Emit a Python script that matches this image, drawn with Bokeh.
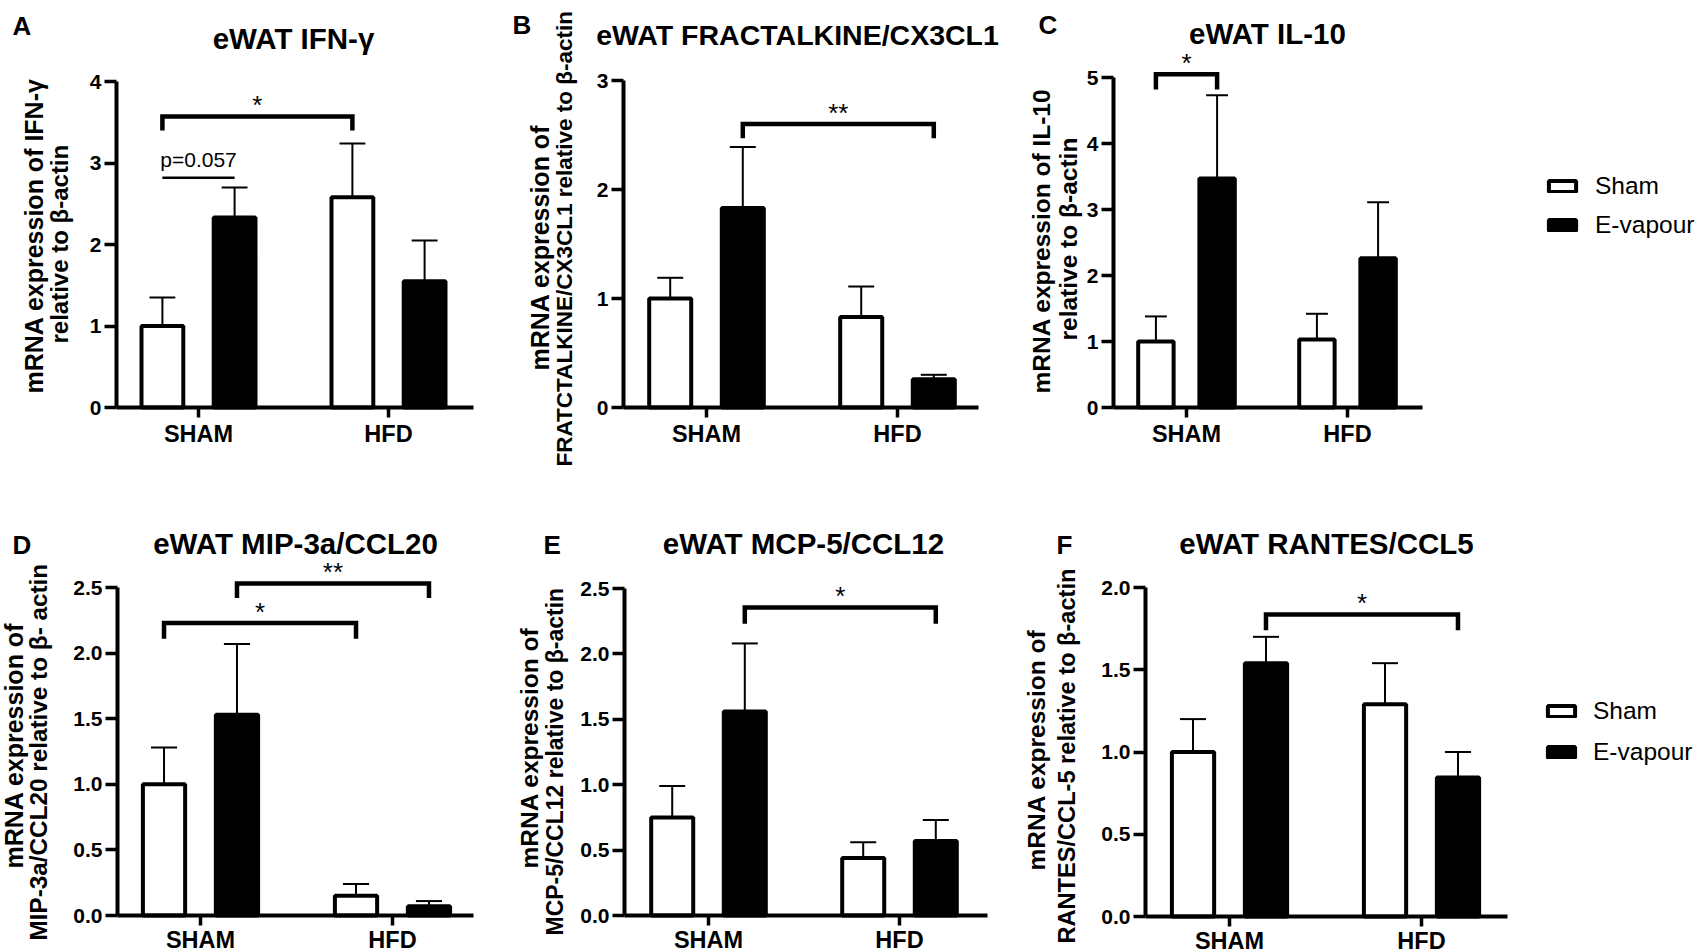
from bokeh.plotting import figure
from bokeh.models import (Range1d, FixedTicker, Label, Legend, LegendItem,
                          NumeralTickFormatter)
from bokeh.layouts import row, column
from bokeh.embed import file_html
from bokeh.resources import INLINE

FONT = "Liberation Sans"

# ---------------- data ----------------
groups = ["SHAM", "HFD"]
series = ["Sham", "E-vapour"]

# A  eWAT IFN-gamma
ifng_sham_mean = [1.00, 2.58]
ifng_sham_sem = [0.35, 0.66]
ifng_evap_mean = [2.33, 1.55]
ifng_evap_sem = [0.37, 0.50]
ifng_yticks = [0, 1, 2, 3, 4]
ifng_brackets = [("SHAM", "Sham", "HFD", "Sham", 3.57, 3.40, "*")]
ifng_plines = [("SHAM", "Sham", "SHAM", "E-vapour", 2.82, "p=0.057")]

# B  eWAT FRACTALKINE/CX3CL1
cx3cl1_sham_mean = [1.00, 0.83]
cx3cl1_sham_sem = [0.19, 0.28]
cx3cl1_evap_mean = [1.83, 0.26]
cx3cl1_evap_sem = [0.56, 0.04]
cx3cl1_yticks = [0, 1, 2, 3]
cx3cl1_brackets = [("SHAM", "E-vapour", "HFD", "E-vapour", 2.60, 2.47, "**")]

# C  eWAT IL-10
il10_sham_mean = [1.00, 1.03]
il10_sham_sem = [0.38, 0.39]
il10_evap_mean = [3.47, 2.26]
il10_evap_sem = [1.26, 0.85]
il10_yticks = [0, 1, 2, 3, 4, 5]
il10_brackets = [("SHAM", "Sham", "SHAM", "E-vapour", 5.05, 4.82, "*")]

# D  eWAT MIP-3a/CCL20
ccl20_sham_mean = [1.00, 0.15]
ccl20_sham_sem = [0.28, 0.09]
ccl20_evap_mean = [1.53, 0.07]
ccl20_evap_sem = [0.54, 0.04]
ccl20_yticks = [0.0, 0.5, 1.0, 1.5, 2.0, 2.5]
ccl20_brackets = [("SHAM", "E-vapour", "HFD", "E-vapour", 2.53, 2.42, "**"),
                  ("SHAM", "Sham", "HFD", "Sham", 2.23, 2.11, "*")]

# E  eWAT MCP-5/CCL12
ccl12_sham_mean = [0.75, 0.44]
ccl12_sham_sem = [0.24, 0.12]
ccl12_evap_mean = [1.56, 0.57]
ccl12_evap_sem = [0.52, 0.16]
ccl12_yticks = [0.0, 0.5, 1.0, 1.5, 2.0, 2.5]
ccl12_brackets = [("SHAM", "E-vapour", "HFD", "E-vapour", 2.355, 2.23, "*")]

# F  eWAT RANTES/CCL5
ccl5_sham_mean = [1.00, 1.29]
ccl5_sham_sem = [0.20, 0.25]
ccl5_evap_mean = [1.54, 0.845]
ccl5_evap_sem = [0.16, 0.155]
ccl5_yticks = [0.0, 0.5, 1.0, 1.5, 2.0]
ccl5_brackets = [("SHAM", "E-vapour", "HFD", "E-vapour", 1.836, 1.74, "*")]

# ---------------- layout (page pixel geometry) ----------------
ROWS = [(0, 470), (470, 482)]                 # fig top, fig height
COLS = [(0, 505), (505, 505), (1010, 687)]    # fig left, fig width

OFF = 0.19      # bar offset from group centre
BW = 0.22       # bar width
CAP = 0.068     # half width of error caps


def bar_x(g, s):
    return groups.index(g) + 1 + (-OFF if s == series[0] else OFF)


def make_panel(cfg, sham_mean, sham_sem, evap_mean, evap_sem, yticks,
               brackets=(), plines=(), legend=None, decimals=False):
    fx0, fw = COLS[cfg["col"]]
    fy0, fh = ROWS[cfg["row"]]
    g1, g2 = cfg["groups_px"]
    L, R, T, B = cfg["frame"]
    ymax = cfg["ymax"]
    ppx = float(g2 - g1)
    ppy = (B - T) / ymax

    def dx(px):
        return 1 + (px - g1) / ppx

    def dy(py):
        return (B - py) / ppy

    p = figure(width=fw, height=fh,
               x_range=Range1d(dx(fx0), dx(fx0 + fw)),
               y_range=Range1d(dy(fy0 + fh), dy(fy0)),
               output_backend="svg", toolbar_location=None,
               min_border_left=0, min_border_right=0,
               min_border_top=0, min_border_bottom=0)
    p.outline_line_color = None
    p.grid.visible = False
    p.background_fill_color = "white"
    p.border_fill_color = "white"

    # axes, pinned at the GraphPad-like positions
    for ax in (p.xaxis[0], p.yaxis[0]):
        ax.axis_line_width = 4
        ax.axis_line_color = "black"
        ax.major_tick_line_width = 3.5
        ax.major_tick_line_color = "black"
        ax.major_tick_in = 0
        ax.minor_tick_line_color = None
        ax.major_label_text_font = FONT
        ax.major_label_text_font_style = "bold"
        ax.major_label_text_color = "black"
    xa, xb = dx(L), dx(R)
    p.xaxis.fixed_location = 0
    p.xaxis.bounds = (xa, xb)
    p.xaxis.ticker = FixedTicker(ticks=[1, 2])
    p.xaxis.major_label_overrides = {1: groups[0], 2: groups[1]}
    p.xaxis.major_tick_out = 10
    p.xaxis.major_label_text_font_size = "23.5px"
    p.xaxis.major_label_standoff = 3 if cfg["row"] == 0 else 1
    p.yaxis.fixed_location = xa
    p.yaxis.bounds = (0, ymax)
    p.yaxis.ticker = FixedTicker(ticks=yticks)
    p.yaxis.major_tick_out = 12
    p.yaxis.major_label_standoff = 3
    p.yaxis.major_label_text_font_size = "21px"
    if decimals:
        p.yaxis.formatter = NumeralTickFormatter(format="0.0")

    sx = [bar_x(g, series[0]) for g in groups]
    ex = [bar_x(g, series[1]) for g in groups]
    r1 = p.vbar(x=sx, top=sham_mean, bottom=0, width=BW, fill_color="white",
                line_color="black", line_width=4)
    r2 = p.vbar(x=ex, top=evap_mean, bottom=0, width=BW, fill_color="black",
                line_color="black", line_width=4)
    for xx, m, e in ((sx, sham_mean, sham_sem), (ex, evap_mean, evap_sem)):
        hi = [a + b for a, b in zip(m, e)]
        p.segment(x0=xx, y0=m, x1=xx, y1=hi, line_color="black", line_width=2)
        p.segment(x0=[x - CAP for x in xx], y0=hi, x1=[x + CAP for x in xx], y1=hi,
                  line_color="black", line_width=2)

    def label(x, y, text, size, bold=False, align="left", angle=0.0):
        p.add_layout(Label(x=x, y=y, text=text, angle=angle, text_align=align,
                           text_baseline="alphabetic", text_font=FONT,
                           text_font_size="%gpx" % size,
                           text_font_style="bold" if bold else "normal",
                           text_color="black"))

    star = 26
    for (ga, sa, gb, sb, lev, leg, mark) in brackets:
        x1, x2 = bar_x(ga, sa), bar_x(gb, sb)
        p.multi_line(xs=[[x1, x1, x2, x2]], ys=[[leg, lev, lev, leg]],
                     line_color="black", line_width=4.5, line_join="miter")
        label((x1 + x2) / 2, lev + (1.0 + 0.40 * star) / ppy, mark, star, align="center")
    for (ga, sa, gb, sb, lev, txt) in plines:
        x1, x2 = bar_x(ga, sa), bar_x(gb, sb)
        p.multi_line(xs=[[x1, x2]], ys=[[lev, lev]], line_color="black", line_width=2.5)
        label((x1 + x2) / 2, lev + (10.0 + 0.40 * 21) / ppy, txt, 21, align="center")

    # title, panel letter, y-axis title lines
    tx, tb, tfs = cfg["title_pos"]
    label(dx(tx), dy(tb - 0.25 * tfs), cfg["title"], tfs, bold=True, align="center")
    lx, lb = cfg["letter_pos"]
    label(dx(lx), dy(lb - 0.28 * 26), cfg["letter"], 26, bold=True)
    for (bx, by, txt, fs) in cfg["ylabel"]:
        label(dx(bx - 0.40 * fs - 1), dy(by), txt, fs, bold=True, angle=1.5707963)

    if legend is not None:
        left, top, spacing, standoff = legend
        h = 28
        bottom = top + 2 * h + spacing
        lg = Legend(items=[LegendItem(label=series[0], renderers=[r1]),
                           LegendItem(label=series[1], renderers=[r2])],
                    location=(left - fx0, fy0 + fh - bottom), orientation="vertical",
                    glyph_width=34, glyph_height=14, label_height=h,
                    label_standoff=standoff, spacing=spacing, padding=0, margin=0,
                    label_text_font=FONT, label_text_font_size="24.5px",
                    label_text_color="black",
                    border_line_alpha=0, background_fill_alpha=0)
        p.add_layout(lg)
    return p


cfgA = dict(row=0, col=0, groups_px=(198, 388), frame=(116, 473, 81, 407), ymax=4,
            title="eWAT IFN-γ", title_pos=(293, 45, 29.5), letter="A", letter_pos=(12, 33),
            ylabel=[(44, 393, "mRNA expression of IFN-γ", 25),
                    (70, 343, "relative to β-actin", 24)])
cfgB = dict(row=0, col=1, groups_px=(706, 897), frame=(623, 978, 80, 407), ymax=3,
            title="eWAT FRACTALKINE/CX3CL1", title_pos=(797, 42, 28.5), letter="B",
            letter_pos=(512, 32),
            ylabel=[(550, 370, "mRNA expression of", 25),
                    (574, 466, "FRATCTALKINE/CX3CL1 relative to β-actin", 22.5)])
cfgC = dict(row=0, col=2, groups_px=(1186, 1347), frame=(1113, 1422, 77, 407), ymax=5,
            title="eWAT IL-10", title_pos=(1267, 40, 29.5), letter="C", letter_pos=(1038, 32),
            ylabel=[(1052, 393, "mRNA expression of IL-10", 24.5),
                    (1079, 340, "relative to β-actin", 24.5)])
cfgD = dict(row=1, col=0, groups_px=(200, 392), frame=(117, 473, 587, 915), ymax=2.5,
            title="eWAT MIP-3a/CCL20", title_pos=(295, 550, 29.5), letter="D",
            letter_pos=(12, 552),
            ylabel=[(24, 868, "mRNA expression of", 25),
                    (49, 940, "MIP-3a/CCL20 relative to β- actin", 24.3)])
cfgE = dict(row=1, col=1, groups_px=(708, 899), frame=(624, 987, 588, 915), ymax=2.5,
            title="eWAT MCP-5/CCL12", title_pos=(803, 550, 29.5), letter="E",
            letter_pos=(543, 552),
            ylabel=[(540, 868, "mRNA expression of", 24.5),
                    (565, 935, "MCP-5/CCL12 relative to β-actin", 23)])
cfgF = dict(row=1, col=2, groups_px=(1229, 1421), frame=(1145, 1507, 587, 916), ymax=2.0,
            title="eWAT RANTES/CCL5", title_pos=(1326, 550, 29.5), letter="F",
            letter_pos=(1056, 552),
            ylabel=[(1047, 870, "mRNA expression of", 24.5),
                    (1077, 943, "RANTES/CCL-5 relative to β-actin", 23.6)])

pA = make_panel(cfgA, ifng_sham_mean, ifng_sham_sem, ifng_evap_mean, ifng_evap_sem,
                ifng_yticks, ifng_brackets, ifng_plines)
pB = make_panel(cfgB, cx3cl1_sham_mean, cx3cl1_sham_sem, cx3cl1_evap_mean, cx3cl1_evap_sem,
                cx3cl1_yticks, cx3cl1_brackets)
pC = make_panel(cfgC, il10_sham_mean, il10_sham_sem, il10_evap_mean, il10_evap_sem,
                il10_yticks, il10_brackets, legend=(1545, 172, 11, 16))
pD = make_panel(cfgD, ccl20_sham_mean, ccl20_sham_sem, ccl20_evap_mean, ccl20_evap_sem,
                ccl20_yticks, ccl20_brackets, decimals=True)
pE = make_panel(cfgE, ccl12_sham_mean, ccl12_sham_sem, ccl12_evap_mean, ccl12_evap_sem,
                ccl12_yticks, ccl12_brackets, decimals=True)
pF = make_panel(cfgF, ccl5_sham_mean, ccl5_sham_sem, ccl5_evap_mean, ccl5_evap_sem,
                ccl5_yticks, ccl5_brackets, legend=(1544, 697, 13, 15), decimals=True)

layout = column(row(pA, pB, pC, spacing=0), row(pD, pE, pF, spacing=0), spacing=0)

with open("out.html", "w") as f:
    f.write(file_html(layout, INLINE, title="eWAT cytokines"))
